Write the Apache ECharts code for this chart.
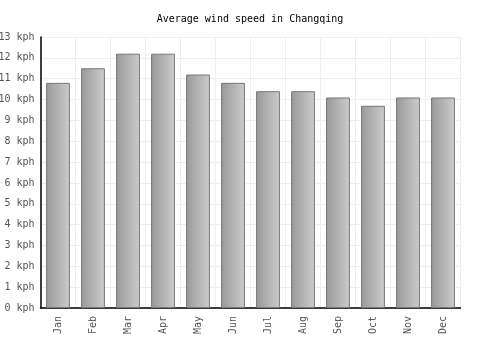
<!DOCTYPE html>
<html>
<head>
<meta charset="utf-8">
<script src="https://cdn.jsdelivr.net/npm/echarts@6/dist/echarts.min.js"></script>
<style>
  html, body { margin: 0; padding: 0; background: #fff; }
  #chart { width: 500px; height: 350px; }
</style>
</head>
<body>
<div id="chart"></div>
<script>
const months = ['Jan', 'Feb', 'Mar', 'Apr', 'May', 'Jun', 'Jul', 'Aug', 'Sep', 'Oct', 'Nov', 'Dec']
const windSpeed = [10.8, 11.5, 12.2, 12.2, 11.2, 10.8, 10.4, 10.4, 10.1, 9.7, 10.1, 10.1]
const yMax = 13

const chart = echarts.init(document.getElementById('chart'))
const font = 'DejaVu Sans Mono'

chart.setOption({
  animation: false,
  title: {
    text: 'Average wind speed in Changqing',
    left: 'center',
    top: 9,
    textStyle: { fontFamily: font, fontSize: 10, fontWeight: 'normal', color: '#000' }
  },
  grid: { left: 40.5, right: 39.5, top: 37, bottom: 42, outerBoundsMode: 'none' },
  xAxis: {
    type: 'category',
    data: months,
    axisLine: { lineStyle: { color: '#000', width: 1.5 } },
    axisTick: { show: false },
    splitLine: { show: true, lineStyle: { color: '#eeeeee' } },
    axisLabel: { rotate: 90, fontFamily: font, fontSize: 10, color: '#555', margin: 8 }
  },
  yAxis: {
    type: 'value',
    min: 0,
    max: yMax,
    interval: 1,
    axisLine: { show: true, lineStyle: { color: '#000', width: 1.5 } },
    axisTick: { show: false },
    splitLine: { lineStyle: { color: '#eeeeee' } },
    axisLabel: { formatter: '{value} kph', fontFamily: font, fontSize: 10, color: '#555', margin: 6 }
  },
  series: [{
    type: 'bar',
    data: windSpeed,
    barCategoryGap: '32%',
    itemStyle: {
      borderColor: '#777',
      borderWidth: 1,
      color: new echarts.graphic.LinearGradient(0, 0, 1, 0, [
        { offset: 0, color: '#999999' },
        { offset: 1, color: '#cccccc' }
      ])
    }
  }]
})
</script>
</body>
</html>
